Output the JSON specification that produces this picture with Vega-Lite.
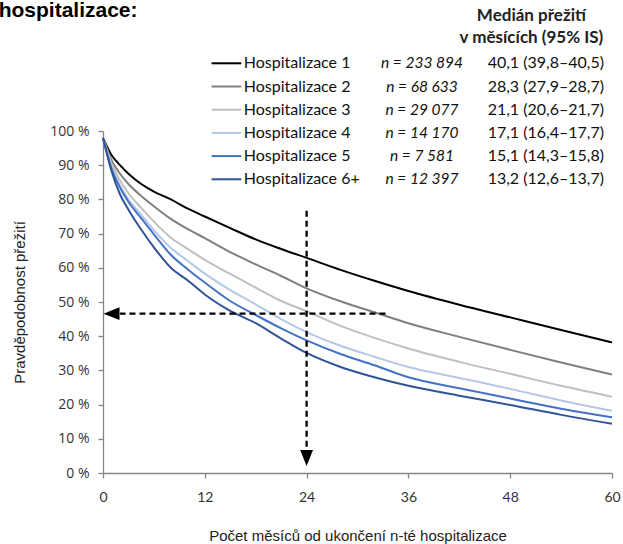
{
  "$schema": "https://vega.github.io/schema/vega-lite/v6.json",
  "width": 509,
  "height": 342,
  "autosize": "none",
  "padding": {"left": 103, "top": 131, "right": 11, "bottom": 71},
  "background": "#ffffff",
  "config": {"view": {"stroke": null}, "font": "Liberation Sans"},
  "datasets": {
    "curves": [
      {"series": "Hospitalizace 1", "month": 0, "pct": 98}, {"series": "Hospitalizace 1", "month": 1, "pct": 93}, {"series": "Hospitalizace 1", "month": 2, "pct": 90}, {"series": "Hospitalizace 1", "month": 3, "pct": 87.5}, {"series": "Hospitalizace 1", "month": 4.5, "pct": 84.5}, {"series": "Hospitalizace 1", "month": 6, "pct": 82.3}, {"series": "Hospitalizace 1", "month": 8, "pct": 80}, {"series": "Hospitalizace 1", "month": 10, "pct": 77.3}, {"series": "Hospitalizace 1", "month": 12, "pct": 75}, {"series": "Hospitalizace 1", "month": 15, "pct": 71.6}, {"series": "Hospitalizace 1", "month": 18, "pct": 68.3}, {"series": "Hospitalizace 1", "month": 21, "pct": 65.5}, {"series": "Hospitalizace 1", "month": 24, "pct": 62.9}, {"series": "Hospitalizace 1", "month": 28, "pct": 59.4}, {"series": "Hospitalizace 1", "month": 32, "pct": 56.2}, {"series": "Hospitalizace 1", "month": 36, "pct": 53.2}, {"series": "Hospitalizace 1", "month": 42, "pct": 49.2}, {"series": "Hospitalizace 1", "month": 48, "pct": 45.5}, {"series": "Hospitalizace 1", "month": 54, "pct": 41.8}, {"series": "Hospitalizace 1", "month": 60, "pct": 38.2},
      {"series": "Hospitalizace 2", "month": 0, "pct": 98}, {"series": "Hospitalizace 2", "month": 1, "pct": 91.5}, {"series": "Hospitalizace 2", "month": 2, "pct": 87.5}, {"series": "Hospitalizace 2", "month": 3, "pct": 84.5}, {"series": "Hospitalizace 2", "month": 4.5, "pct": 81}, {"series": "Hospitalizace 2", "month": 6, "pct": 78}, {"series": "Hospitalizace 2", "month": 8, "pct": 74.3}, {"series": "Hospitalizace 2", "month": 10, "pct": 71.3}, {"series": "Hospitalizace 2", "month": 12, "pct": 68.7}, {"series": "Hospitalizace 2", "month": 15, "pct": 64.6}, {"series": "Hospitalizace 2", "month": 18, "pct": 61}, {"series": "Hospitalizace 2", "month": 21, "pct": 57.6}, {"series": "Hospitalizace 2", "month": 24, "pct": 54}, {"series": "Hospitalizace 2", "month": 28, "pct": 50.2}, {"series": "Hospitalizace 2", "month": 32, "pct": 47}, {"series": "Hospitalizace 2", "month": 36, "pct": 43.8}, {"series": "Hospitalizace 2", "month": 42, "pct": 39.8}, {"series": "Hospitalizace 2", "month": 48, "pct": 36}, {"series": "Hospitalizace 2", "month": 54, "pct": 32.3}, {"series": "Hospitalizace 2", "month": 60, "pct": 28.8},
      {"series": "Hospitalizace 3", "month": 0, "pct": 98}, {"series": "Hospitalizace 3", "month": 1, "pct": 90.5}, {"series": "Hospitalizace 3", "month": 2, "pct": 85.5}, {"series": "Hospitalizace 3", "month": 3, "pct": 81.8}, {"series": "Hospitalizace 3", "month": 4.5, "pct": 77.5}, {"series": "Hospitalizace 3", "month": 6, "pct": 73.5}, {"series": "Hospitalizace 3", "month": 8, "pct": 68.8}, {"series": "Hospitalizace 3", "month": 10, "pct": 65.5}, {"series": "Hospitalizace 3", "month": 12, "pct": 62.3}, {"series": "Hospitalizace 3", "month": 15, "pct": 58.2}, {"series": "Hospitalizace 3", "month": 18, "pct": 54.2}, {"series": "Hospitalizace 3", "month": 21, "pct": 50.3}, {"series": "Hospitalizace 3", "month": 24, "pct": 47.3}, {"series": "Hospitalizace 3", "month": 28, "pct": 43}, {"series": "Hospitalizace 3", "month": 32, "pct": 39.5}, {"series": "Hospitalizace 3", "month": 36, "pct": 36.4}, {"series": "Hospitalizace 3", "month": 42, "pct": 32.5}, {"series": "Hospitalizace 3", "month": 48, "pct": 29}, {"series": "Hospitalizace 3", "month": 54, "pct": 25.5}, {"series": "Hospitalizace 3", "month": 60, "pct": 22.3},
      {"series": "Hospitalizace 4", "month": 0, "pct": 98}, {"series": "Hospitalizace 4", "month": 1, "pct": 89.5}, {"series": "Hospitalizace 4", "month": 2, "pct": 84}, {"series": "Hospitalizace 4", "month": 3, "pct": 80}, {"series": "Hospitalizace 4", "month": 4.5, "pct": 75.5}, {"series": "Hospitalizace 4", "month": 6, "pct": 71}, {"series": "Hospitalizace 4", "month": 8, "pct": 65.8}, {"series": "Hospitalizace 4", "month": 10, "pct": 62}, {"series": "Hospitalizace 4", "month": 12, "pct": 58.3}, {"series": "Hospitalizace 4", "month": 15, "pct": 53.5}, {"series": "Hospitalizace 4", "month": 18, "pct": 49.3}, {"series": "Hospitalizace 4", "month": 21, "pct": 45}, {"series": "Hospitalizace 4", "month": 24, "pct": 41.2}, {"series": "Hospitalizace 4", "month": 28, "pct": 37.2}, {"series": "Hospitalizace 4", "month": 32, "pct": 34}, {"series": "Hospitalizace 4", "month": 36, "pct": 31}, {"series": "Hospitalizace 4", "month": 42, "pct": 27.8}, {"series": "Hospitalizace 4", "month": 48, "pct": 24.6}, {"series": "Hospitalizace 4", "month": 54, "pct": 21.2}, {"series": "Hospitalizace 4", "month": 60, "pct": 18.2},
      {"series": "Hospitalizace 5", "month": 0, "pct": 98}, {"series": "Hospitalizace 5", "month": 1, "pct": 89}, {"series": "Hospitalizace 5", "month": 2, "pct": 83.5}, {"series": "Hospitalizace 5", "month": 3, "pct": 79.3}, {"series": "Hospitalizace 5", "month": 4.5, "pct": 74.5}, {"series": "Hospitalizace 5", "month": 6, "pct": 69.8}, {"series": "Hospitalizace 5", "month": 8, "pct": 63.8}, {"series": "Hospitalizace 5", "month": 10, "pct": 59.5}, {"series": "Hospitalizace 5", "month": 12, "pct": 55.7}, {"series": "Hospitalizace 5", "month": 15, "pct": 50.3}, {"series": "Hospitalizace 5", "month": 18, "pct": 46.2}, {"series": "Hospitalizace 5", "month": 21, "pct": 42.3}, {"series": "Hospitalizace 5", "month": 24, "pct": 38.8}, {"series": "Hospitalizace 5", "month": 28, "pct": 34.8}, {"series": "Hospitalizace 5", "month": 32, "pct": 31.5}, {"series": "Hospitalizace 5", "month": 36, "pct": 28}, {"series": "Hospitalizace 5", "month": 42, "pct": 24.8}, {"series": "Hospitalizace 5", "month": 48, "pct": 21.8}, {"series": "Hospitalizace 5", "month": 54, "pct": 18.8}, {"series": "Hospitalizace 5", "month": 60, "pct": 16.3},
      {"series": "Hospitalizace 6+", "month": 0, "pct": 98}, {"series": "Hospitalizace 6+", "month": 1, "pct": 88.3}, {"series": "Hospitalizace 6+", "month": 2, "pct": 81.5}, {"series": "Hospitalizace 6+", "month": 3, "pct": 77}, {"series": "Hospitalizace 6+", "month": 4.5, "pct": 71.2}, {"series": "Hospitalizace 6+", "month": 6, "pct": 66}, {"series": "Hospitalizace 6+", "month": 8, "pct": 60}, {"series": "Hospitalizace 6+", "month": 10, "pct": 56.3}, {"series": "Hospitalizace 6+", "month": 12, "pct": 52.2}, {"series": "Hospitalizace 6+", "month": 15, "pct": 47.4}, {"series": "Hospitalizace 6+", "month": 18, "pct": 43.8}, {"series": "Hospitalizace 6+", "month": 21, "pct": 39.3}, {"series": "Hospitalizace 6+", "month": 24, "pct": 35.1}, {"series": "Hospitalizace 6+", "month": 28, "pct": 31}, {"series": "Hospitalizace 6+", "month": 32, "pct": 28}, {"series": "Hospitalizace 6+", "month": 36, "pct": 25.5}, {"series": "Hospitalizace 6+", "month": 42, "pct": 22.6}, {"series": "Hospitalizace 6+", "month": 48, "pct": 19.9}, {"series": "Hospitalizace 6+", "month": 54, "pct": 17}, {"series": "Hospitalizace 6+", "month": 60, "pct": 14.4}
    ],
    "legendRows": [
      {"series": "Hospitalizace 1", "n": "n = 233 894", "median": "40,1 (39,8–40,5)"},
      {"series": "Hospitalizace 2", "n": "n = 68 633", "median": "28,3 (27,9–28,7)"},
      {"series": "Hospitalizace 3", "n": "n = 29 077", "median": "21,1 (20,6–21,7)"},
      {"series": "Hospitalizace 4", "n": "n = 14 170", "median": "17,1 (16,4–17,7)"},
      {"series": "Hospitalizace 5", "n": "n = 7 581", "median": "15,1 (14,3–15,8)"},
      {"series": "Hospitalizace 6+", "n": "n = 12 397", "median": "13,2 (12,6–13,7)"}
    ],
    "annotation": [{"label": "hospitalizace:"}]
  },
  "layer": [
    {
      "data": {"name": "curves"},
      "mark": {"type": "line", "strokeWidth": 2, "interpolate": "monotone"},
      "encoding": {
        "x": {
          "field": "month", "type": "quantitative",
          "scale": {"domain": [0, 60], "nice": false},
          "axis": {
            "values": [0, 12, 24, 36, 48, 60],
            "title": "Počet měsíců od ukončení n-té hospitalizace",
            "grid": false, "domainColor": "#868686", "tickColor": "#868686",
            "domainWidth": 1.3, "tickWidth": 1.3, "tickSize": 5,
            "labelFont": "Lato", "labelFontSize": 14, "labelColor": "#333333",
            "labelPadding": 12, "labelFlush": false, "labelOverlap": false,
            "titleFont": "Liberation Sans", "titleFontSize": 15, "titleFontWeight": "normal",
            "titleColor": "#222222", "titlePadding": 24
          }
        },
        "y": {
          "field": "pct", "type": "quantitative",
          "scale": {"domain": [0, 100], "nice": false},
          "axis": {
            "values": [0, 10, 20, 30, 40, 50, 60, 70, 80, 90, 100],
            "tickCount": 11,
            "labelExpr": "datum.value + ' %'",
            "title": "Pravděpodobnost přežití",
            "grid": false, "domainColor": "#868686", "tickColor": "#868686",
            "domainWidth": 1.3, "tickWidth": 1.3, "tickSize": 5,
            "labelFont": "Open Sans", "labelFontSize": 14, "labelColor": "#333333",
            "labelPadding": 9, "labelFlush": false, "labelOverlap": false,
            "titleFont": "Liberation Sans", "titleFontSize": 15, "titleFontWeight": "normal",
            "titleColor": "#222222", "titlePadding": 22
          }
        },
        "color": {
          "field": "series", "type": "nominal", "legend": null,
          "scale": {
            "domain": ["Hospitalizace 1", "Hospitalizace 2", "Hospitalizace 3", "Hospitalizace 4", "Hospitalizace 5", "Hospitalizace 6+"],
            "range": ["#000000", "#7f7f7f", "#bfbfbf", "#b4c7e7", "#4472c4", "#2f5597"]
          }
        }
      }
    },
    {
      "data": {"name": "annotation"},
      "mark": {"type": "rule", "strokeDash": [6, 4], "strokeWidth": 2.3, "color": "#000000"},
      "encoding": {"x": {"datum": 24}, "y": {"datum": 76.7}, "y2": {"datum": 6.5}}
    },
    {
      "data": {"name": "annotation"},
      "mark": {"type": "rule", "strokeDash": [6, 4], "strokeWidth": 2.3, "color": "#000000"},
      "encoding": {"x": {"datum": 33.3}, "x2": {"datum": 2}, "y": {"datum": 46.6}}
    },
    {
      "data": {"name": "annotation"},
      "mark": {"type": "point", "shape": "M-0.8,-1L0.8,-1L0,1Z", "filled": true, "size": 256, "color": "#000000", "opacity": 1, "strokeWidth": 0},
      "encoding": {"x": {"datum": 24}, "y": {"datum": 4.4}}
    },
    {
      "data": {"name": "annotation"},
      "mark": {"type": "point", "shape": "M1,-0.8L1,0.8L-1,0Z", "filled": true, "size": 256, "color": "#000000", "opacity": 1, "strokeWidth": 0},
      "encoding": {"x": {"datum": 1.0}, "y": {"datum": 46.6}}
    },
    {
      "data": {"name": "annotation"},
      "mark": {"type": "text", "align": "center", "baseline": "middle", "font": "Lato", "fontSize": 17, "fontWeight": "bold", "color": "#222222", "lineHeight": 22},
      "encoding": {"x": {"datum": 50.5}, "y": {"datum": 133.7}, "text": {"value": ["Medián přežití", "v měsících (95% IS)"]}}
    },
    {
      "data": {"name": "annotation"},
      "mark": {"type": "text", "align": "left", "baseline": "middle", "font": "Liberation Sans", "fontSize": 21, "fontWeight": "bold", "color": "#000000"},
      "encoding": {"x": {"datum": -12.3}, "y": {"datum": 135}, "text": {"field": "label"}}
    },
    {
      "data": {"name": "legendRows"},
      "mark": {"type": "rule", "strokeWidth": 2},
      "encoding": {
        "x": {"datum": 12.8}, "x2": {"datum": 16.3},
        "y": {"datum": 100},
        "yOffset": {"field": "series", "type": "ordinal", "scale": {"type": "point", "range": [-67.7, 48.3], "padding": 0}},
        "color": {"field": "series", "type": "nominal", "legend": null}
      }
    },
    {
      "data": {"name": "legendRows"},
      "mark": {"type": "text", "align": "left", "baseline": "middle", "font": "Lato", "fontSize": 16, "color": "#111111"},
      "encoding": {
        "x": {"datum": 16.6},
        "y": {"datum": 100},
        "yOffset": {"field": "series", "type": "ordinal", "scale": {"type": "point", "range": [-67.7, 48.3], "padding": 0}},
        "text": {"field": "series"}
      }
    },
    {
      "data": {"name": "legendRows"},
      "mark": {"type": "text", "align": "center", "baseline": "middle", "font": "Lato", "fontSize": 15.5, "fontStyle": "italic", "color": "#111111"},
      "encoding": {
        "x": {"datum": 37.6},
        "y": {"datum": 100},
        "yOffset": {"field": "series", "type": "ordinal", "scale": {"type": "point", "range": [-67.7, 48.3], "padding": 0}},
        "text": {"field": "n"}
      }
    },
    {
      "data": {"name": "legendRows"},
      "mark": {"type": "text", "align": "center", "baseline": "middle", "font": "Lato", "fontSize": 16, "color": "#111111"},
      "encoding": {
        "x": {"datum": 52.2},
        "y": {"datum": 100},
        "yOffset": {"field": "series", "type": "ordinal", "scale": {"type": "point", "range": [-67.7, 48.3], "padding": 0}},
        "text": {"field": "median"}
      }
    }
  ]
}
